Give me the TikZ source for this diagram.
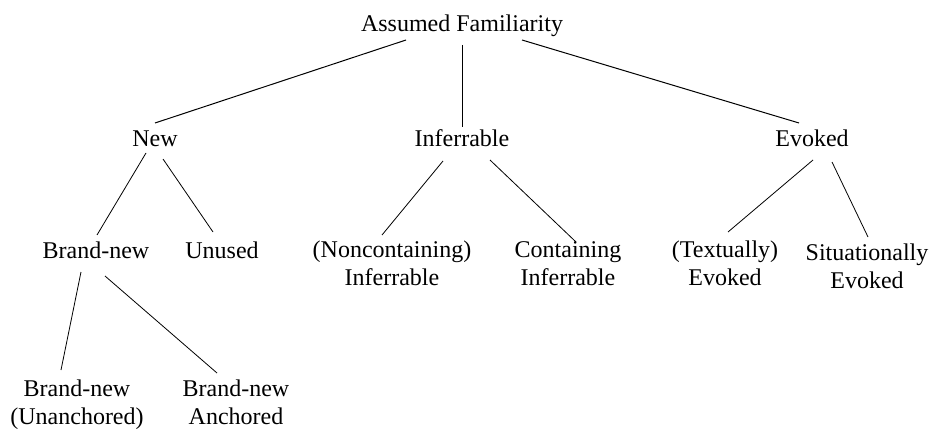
\documentclass[tikz,border=0pt]{standalone}
\usepackage{fontspec}
\setmainfont{Liberation Serif}
\begin{document}
\begin{tikzpicture}[x=1pt,y=-1pt,
    lbl/.style={inner sep=0pt,font=\fontsize{24}{28}\selectfont},
    two/.style={lbl,align=center,anchor=north},
    thin/.style={line width=0.8pt}]
    \useasboundingbox (0,0) rectangle (933,430);
    \node[lbl,anchor=base] (root) at (462,32) {Assumed Familiarity};
    \node[lbl,anchor=base] (new) at (155,147) {New};
    \node[lbl,anchor=base] (infer) at (462,147) {Inferrable};
    \node[lbl,anchor=base] (evoked) at (812,147) {Evoked};
    \node[lbl,anchor=base] (brandnew) at (96,258) {Brand-new};
    \node[lbl,anchor=base] (unused) at (222,258) {Unused};
    \node[two] (noncont) at (392,241) {(Noncontaining)\\Inferrable};
    \node[two] (cont) at (568,241) {Containing\\Inferrable};
    \node[two] (textual) at (725,241) {(Textually)\\Evoked};
    \node[two] (situ) at (867,244) {Situationally\\Evoked};
    \node[two] (unanch) at (77,380) {Brand-new\\(Unanchored)};
    \node[two] (anch) at (236,380) {Brand-new\\Anchored};
    % top level
    \draw[line width=1pt] ([shift={(-56,8)}]root.base) -- ([shift={(0,-24)}]new.base);
    \draw[line width=1pt] ([shift={(0,13)}]root.base) -- ([shift={(0,-20)}]infer.base);
    \draw[line width=1pt] ([shift={(60,8)}]root.base) -- ([shift={(-13,-24)}]evoked.base);
    % second level
    \draw[thin] ([shift={(-9,6)}]new.base) -- ([shift={(1,-23)}]brandnew.base);
    \draw[thin] ([shift={(8,12)}]new.base) -- ([shift={(-9,-26)}]unused.base);
    \draw[thin] ([shift={(-19,14)}]infer.base) -- ([shift={(-10,-6)}]noncont.north);
    \draw[thin] ([shift={(28,13)}]infer.base) -- ([shift={(8,1)}]cont.north);
    \draw[thin] ([shift={(1,13)}]evoked.base) -- ([shift={(3,-9)}]textual.north);
    \draw[thin] ([shift={(20,15)}]evoked.base) -- ([shift={(1,-7)}]situ.north);
    % brand-new
    \draw[thin] ([shift={(-15,14)}]brandnew.base) -- ([shift={(-16,-10)}]unanch.north);
    \draw[thin] ([shift={(9,18)}]brandnew.base) -- ([shift={(-19,-7)}]anch.north);
\end{tikzpicture}
\end{document}
